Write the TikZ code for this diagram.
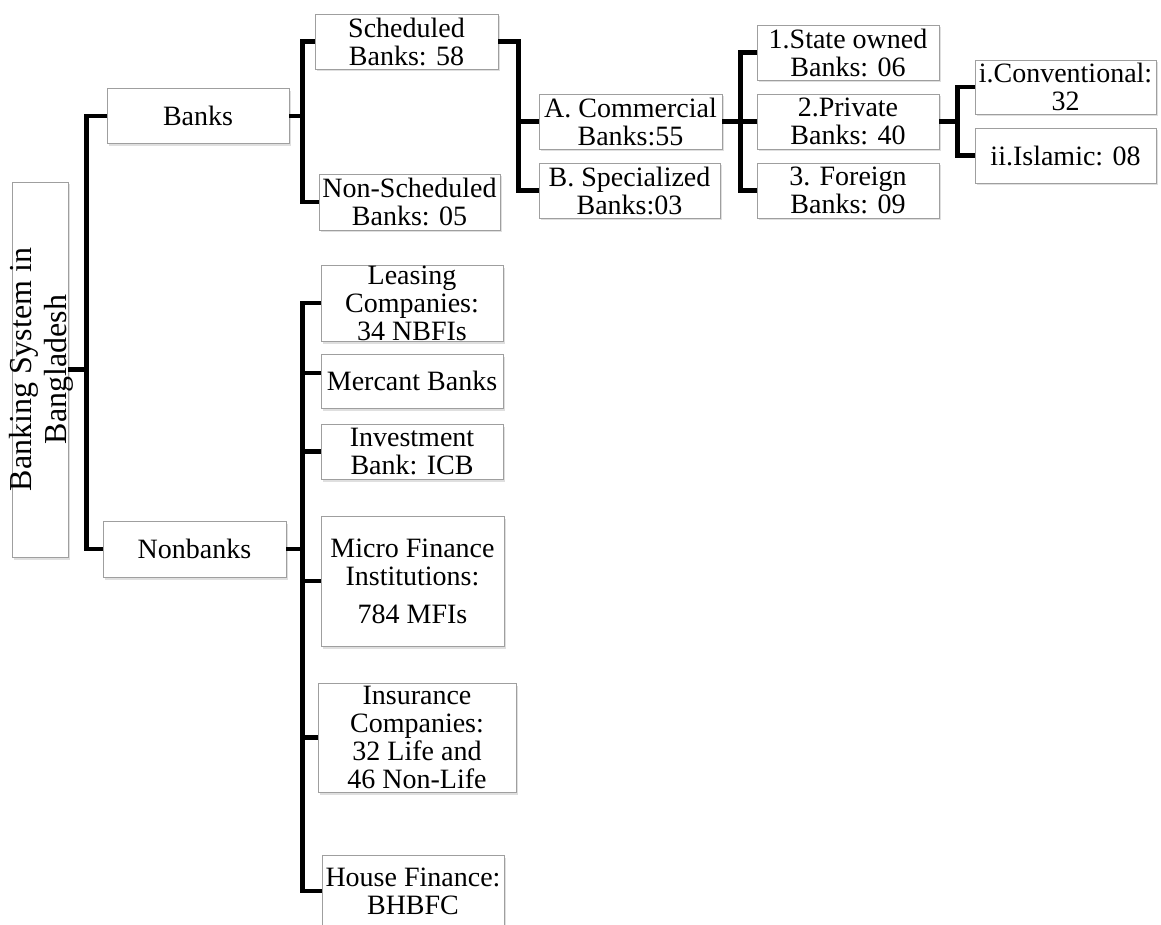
\documentclass[tikz,border=0pt]{standalone}
\usepackage{fontspec}
\setmainfont{Liberation Serif}
\usetikzlibrary{shadows}

\begin{document}
\begin{tikzpicture}[x=1pt, y=-1pt,
    box/.style={draw=gray!75, line width=0.8pt, fill=white, align=center,
        inner sep=0pt, minimum width=182pt, minimum height=55pt,
        font=\fontsize{28}{28}\selectfont,
        drop shadow={shadow xshift=1.5pt, shadow yshift=-2.5pt, opacity=0.25}},
    link/.style={line width=4.5pt}]
    %\draw[lightgray] (0, 0) grid[step=50] (1161, 925);
    \useasboundingbox (0, 0) rectangle (1161, 925);
    \node[box, minimum width=56pt, minimum height=375pt] (root) at (40, 369.5) {};
    \node[rotate=90, align=center, inner sep=0pt, font=\fontsize{32}{35}\selectfont]
        (roottext) at (41, 369.5) {Banking System in\\Bangladesh};
    \node[box] (banks) at (198, 116) {Banks};
    \node[box, minimum width=183pt, minimum height=56pt] (nonbanks) at (194.5, 549) {Nonbanks};
    \node[box, minimum width=183pt] (sched) at (406.5, 41.5) {Scheduled\\Banks: 58};
    \node[box, minimum width=181pt, minimum height=56pt] (nonsched) at (409.5, 202) {Non-Scheduled\\Banks: 05};
    \node[box, minimum width=183pt] (comm) at (630.5, 121.5) {A. Commercial\\Banks:55};
    \node[box, minimum width=181pt] (spec) at (629.5, 190.5) {B. Specialized\\Banks:03};
    \node[box] (state) at (848, 52.5) {1.State owned\\Banks: 06};
    \node[box] (priv) at (848, 121.5) {2.Private\\Banks: 40};
    \node[box] (foreign) at (848, 190.5) {3. Foreign\\Banks: 09};
    \node[box, minimum width=181pt, minimum height=54pt] (conv) at (1065.5, 87) {i.Conventional:\\32};
    \node[box, minimum width=181pt] (islamic) at (1065.5, 155.5) {ii.Islamic: 08};
    \node[box, minimum height=76pt] (leasing) at (412, 303) {Leasing\\Companies:\\34 NBFIs};
    \node[box, minimum height=54pt] (mercant) at (412, 381) {Mercant Banks};
    \node[box] (invest) at (412, 451.5) {Investment\\Bank: ICB};
    \node[box, minimum width=183pt, minimum height=130pt] (micro) at (412.5, 581)
        {Micro Finance\\Institutions:\\[10pt]784 MFIs};
    \node[box, minimum width=198pt, minimum height=109pt] (insur) at (417, 737.5)
        {Insurance\\Companies:\\32 Life and\\46 Non-Life};
    \node[box, minimum height=72pt] (house) at (413, 891) {House Finance:\\BHBFC};
    % root
    \coordinate (rbus) at ([xshift=18pt]root.east);
    \draw[link] (root.east) -- (rbus);
    \draw[link] (banks.west) -| (rbus) |- (nonbanks.west);
    % banks
    \coordinate (bbus) at ([xshift=13pt]banks.east);
    \draw[link] (banks.east) -- (bbus);
    \draw[link] (sched.west) -| (bbus) |- (nonsched.west);
    \coordinate (sbus) at ([xshift=20pt]sched.east);
    \draw[link] (sched.east) -- (sbus) |- (spec.west);
    \draw[link] (sbus |- comm.west) -- (comm.west);
    \coordinate (cbus) at ([xshift=18pt]comm.east);
    \draw[link] (comm.east) -- (cbus) -- (priv.west);
    \draw[link] (state.west) -| (cbus) |- (foreign.west);
    \coordinate (pbus) at ([xshift=18pt]priv.east);
    \draw[link] (priv.east) -- (pbus);
    \draw[link] (conv.west) -| (pbus) |- (islamic.west);
    % nonbanks
    \coordinate (nbus) at ([xshift=16pt]nonbanks.east);
    \draw[link] (nonbanks.east) -- (nbus);
    \draw[link] (leasing.west) -| (nbus) |- (house.west);
    \coordinate (mtap) at ([yshift=8pt]mercant.west);
    \draw[link] (nbus |- mtap) -- (mtap);
    \foreach \n in {invest, micro, insur}
        \draw[link] (nbus |- \n.west) -- (\n.west);
\end{tikzpicture}
\end{document}
